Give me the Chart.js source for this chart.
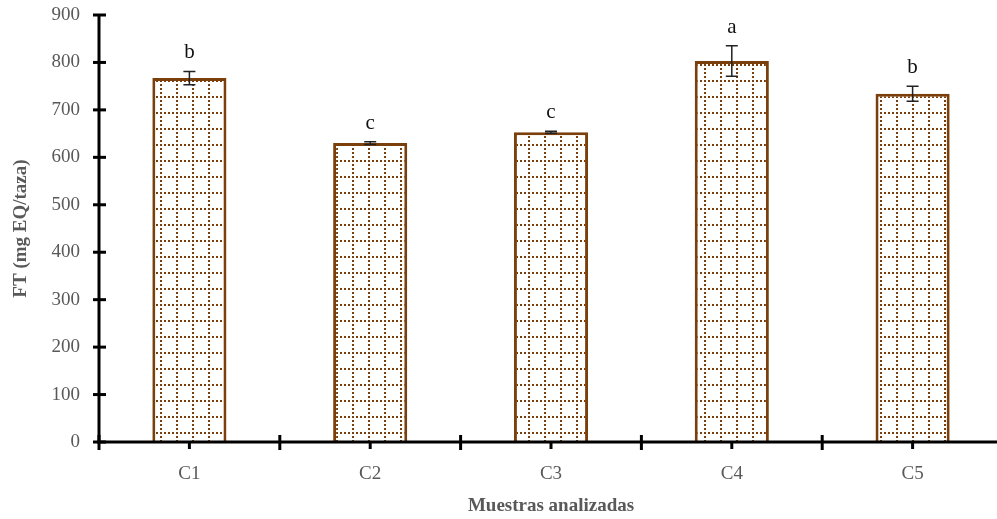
<!DOCTYPE html>
<html lang="es">
<head>
    <meta charset="UTF-8">
    <title>FT por muestra</title>
    <script src="https://cdn.jsdelivr.net/npm/chart.js"></script>
    <style>
        html, body {
            margin: 0;
            padding: 0;
            overflow: hidden;
            background: #fff;
        }
        #wrap {
            width: 1003px;
            height: 519px;
        }
    </style>
</head>
<body>
    <div id="wrap"><canvas id="myChart"></canvas></div>

    <script>
        // data
        const categories = ['C1', 'C2', 'C3', 'C4', 'C5'];
        const values = [767, 630, 653, 803, 734];
        const errors = [14, 3, 2, 32, 16];
        const letters = ['b', 'c', 'c', 'a', 'b'];
        const yMin = 0;
        const yMax = 900;
        const yStep = 100;

        const brown = '#7b3f0c';
        const grey = '#595959';
        const serif = '"Liberation Serif", "Times New Roman", serif';

        // dotted grid fill for the bars
        function makePattern() {
            const c = document.createElement('canvas');
            c.width = 16;
            c.height = 16;
            const g = c.getContext('2d');
            g.fillStyle = '#fff';
            g.fillRect(0, 0, 16, 16);
            g.fillStyle = brown;
            for (let i = 0; i < 16; i += 4) {
                g.fillRect(i, 0, 2, 2);
                g.fillRect(0, i, 2, 2);
            }
            return g.createPattern(c, 'repeat');
        }

        // axis lines, tick marks, error bars and letters
        const extras = {
            id: 'extras',
            afterDatasetsDraw(chart) {
                const ctx = chart.ctx;
                const x = chart.scales.x;
                const y = chart.scales.y;
                const area = chart.chartArea;
                const y0 = y.getPixelForValue(0);

                ctx.save();
                // error bars
                ctx.strokeStyle = '#222';
                ctx.lineWidth = 1.5;
                values.forEach((v, i) => {
                    const cx = x.getPixelForValue(i);
                    const top = y.getPixelForValue(v + errors[i]);
                    const bot = y.getPixelForValue(v - errors[i]);
                    ctx.beginPath();
                    ctx.moveTo(cx, top); ctx.lineTo(cx, bot);
                    ctx.moveTo(cx - 6, top); ctx.lineTo(cx + 6, top);
                    ctx.moveTo(cx - 6, bot); ctx.lineTo(cx + 6, bot);
                    ctx.stroke();

                    ctx.fillStyle = '#111';
                    ctx.font = '21px ' + serif;
                    ctx.textAlign = 'center';
                    ctx.textBaseline = 'alphabetic';
                    ctx.fillText(letters[i], cx, top - 13);
                });

                // axes
                ctx.strokeStyle = '#000';
                ctx.lineWidth = 3;
                ctx.beginPath();
                ctx.moveTo(area.left, area.top);
                ctx.lineTo(area.left, y0);
                ctx.moveTo(area.left - 2, y0);
                ctx.lineTo(area.right, y0);
                ctx.stroke();

                // y tick marks, crossing the axis
                for (let t = yMin; t <= yMax; t += yStep) {
                    const py = y.getPixelForValue(t);
                    ctx.beginPath();
                    ctx.moveTo(area.left - 6, py);
                    ctx.lineTo(area.left + 7, py);
                    ctx.stroke();
                }
                // x tick marks: crossing at boundaries, downward at centres
                const half = (x.getPixelForValue(1) - x.getPixelForValue(0)) / 2;
                categories.forEach((c, i) => {
                    const cx = x.getPixelForValue(i);
                    ctx.beginPath();
                    ctx.moveTo(cx, y0);
                    ctx.lineTo(cx, y0 + 7);
                    ctx.stroke();
                    const bx = cx - half;
                    ctx.beginPath();
                    ctx.moveTo(bx, y0 - 7);
                    ctx.lineTo(bx, y0 + 8);
                    ctx.stroke();
                });
                ctx.restore();
            }
        };

        const ctx = document.getElementById('myChart').getContext('2d');
        const myChart = new Chart(ctx, {
            type: 'bar',
            data: {
                labels: categories,
                datasets: [{
                    data: values,
                    backgroundColor: makePattern(),
                    borderColor: brown,
                    borderWidth: 3,
                    borderSkipped: 'bottom',
                    barPercentage: 0.41,
                    categoryPercentage: 1
                }]
            },
            options: {
                responsive: true,
                maintainAspectRatio: false,
                animation: false,
                layout: {
                    padding: { top: 15, right: 0, left: 0, bottom: 0 }
                },
                plugins: {
                    legend: { display: false },
                    tooltip: { enabled: false }
                },
                scales: {
                    x: {
                        grid: { display: false, drawTicks: false },
                        border: { display: false },
                        ticks: {
                            color: grey,
                            padding: 21,
                            font: { family: serif, size: 19 }
                        },
                        title: {
                            display: true,
                            text: 'Muestras analizadas',
                            color: grey,
                            padding: { top: 0, bottom: 2 },
                            font: { family: serif, size: 19, weight: 'bold' }
                        },
                        afterFit(scale) { scale.height = 77; }
                    },
                    y: {
                        min: yMin,
                        max: yMax,
                        grid: { display: false, drawTicks: false },
                        border: { display: false },
                        ticks: {
                            stepSize: yStep,
                            color: grey,
                            padding: 19,
                            font: { family: serif, size: 19 }
                        },
                        title: {
                            display: true,
                            text: 'FT (mg EQ/taza)',
                            color: grey,
                            padding: { top: 10, bottom: 0 },
                            font: { family: serif, size: 19, weight: 'bold' }
                        },
                        afterFit(scale) {
                            scale.width = 99;
                            scale.paddingTop = 0;
                            scale.paddingBottom = 0;
                        }
                    }
                }
            },
            plugins: [extras]
        });
    </script>
</body>
</html>
